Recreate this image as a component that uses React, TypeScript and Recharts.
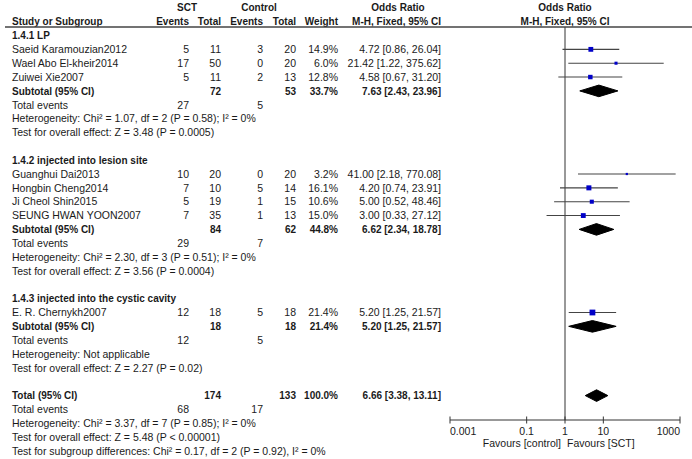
import React from 'react';
import { ComposedChart, Scatter, Line, Area, XAxis, YAxis, ReferenceLine } from 'recharts';

// ---------- data ----------
const studyNames = [
  'Saeid Karamouzian2012',
  'Wael Abo El-kheir2014',
  'Zuiwei Xie2007',
  'Guanghui Dai2013',
  'Hongbin Cheng2014',
  'Ji Cheol Shin2015',
  'SEUNG HWAN YOON2007',
  'E. R. Chernykh2007',
];
const studyGroup = [0, 0, 0, 1, 1, 1, 1, 2];
const sctEvents = [5, 17, 5, 10, 7, 5, 7, 12];
const sctTotal = [11, 50, 11, 20, 10, 19, 35, 18];
const ctlEvents = [3, 0, 2, 0, 5, 1, 1, 5];
const ctlTotal = [20, 20, 13, 20, 14, 15, 13, 18];
const weights = [14.9, 6.0, 12.8, 3.2, 16.1, 10.6, 15.0, 21.4];
const oddsRatio = [4.72, 21.42, 4.58, 41.0, 4.2, 5.0, 3.0, 5.2];
const ciLower = [0.86, 1.22, 0.67, 2.18, 0.74, 0.52, 0.33, 1.25];
const ciUpper = [26.04, 375.62, 31.2, 770.08, 23.91, 48.46, 27.12, 21.57];

const groupLabels = ['1.4.1 LP', '1.4.2 injected into lesion site', '1.4.3 injected into the cystic cavity'];
const groupSctTotal = [72, 84, 18];
const groupCtlTotal = [53, 62, 18];
const groupSctEvents = [27, 29, 12];
const groupCtlEvents = [5, 7, 5];
const groupWeight = [33.7, 44.8, 21.4];
const groupOR = [7.63, 6.62, 5.2];
const groupLower = [2.43, 2.34, 1.25];
const groupUpper = [23.96, 18.78, 21.57];
const groupHet = [
  'Heterogeneity: Chi\u00B2 = 1.07, df = 2 (P = 0.58); I\u00B2 = 0%',
  'Heterogeneity: Chi\u00B2 = 2.30, df = 3 (P = 0.51); I\u00B2 = 0%',
  'Heterogeneity: Not applicable',
];
const groupTest = [
  'Test for overall effect: Z = 3.48 (P = 0.0005)',
  'Test for overall effect: Z = 3.56 (P = 0.0004)',
  'Test for overall effect: Z = 2.27 (P = 0.02)',
];

const totalSct = 174;
const totalCtl = 133;
const totalSctEvents = 68;
const totalCtlEvents = 17;
const totalWeight = 100.0;
const totalOR = 6.66;
const totalLower = 3.38;
const totalUpper = 13.11;
const totalHet = 'Heterogeneity: Chi\u00B2 = 3.37, df = 7 (P = 0.85); I\u00B2 = 0%';
const totalTest = 'Test for overall effect: Z = 5.48 (P < 0.00001)';
const subgroupTest = 'Test for subgroup differences: Chi\u00B2 = 0.17, df = 2 (P = 0.92), I\u00B2 = 0%';

const axisTicks = [0.001, 0.1, 1, 10, 1000];

// ---------- layout ----------
const W = 692;
const H = 459;
const ROW0 = 35.5;
const ROW_H = 13.85;
const PLOT_LEFT = 450;
const PLOT_RIGHT = 680;
const PLOT_TOP = 27;
const AXIS_Y = 420;
const FONT = "'Liberation Sans', Arial, sans-serif";
const FS = 10.5;
const FS_BOLD = 10;
const TXT = '#1a1a1a';

const COL = { name: 12, sctEv: 189, sctTot: 221, ctlEv: 263, ctlTot: 296, weight: 338, or: 441 };

const fmt = (v: number) => v.toFixed(2);
const orLabel = (o: number, l: number, h: number) => `${fmt(o)} [${fmt(l)}, ${fmt(h)}]`;

type TextRowT = {
  x: number;
  row: number;
  kind: string;
  name?: string;
  c1?: string;
  c2?: string;
  c3?: string;
  c4?: string;
  c5?: string;
  c6?: string;
};

const textRows: TextRowT[] = [];
const studyPoints: { x: number; row: number; w: number; lo: number; hi: number }[] = [];
const diamonds: { row: number; or: number; lo: number; hi: number }[] = [];

(function build() {
  textRows.push({ x: 0.5, row: -2, kind: 'head1' });
  textRows.push({ x: 0.5, row: -1, kind: 'head2' });
  let r = 0;
  groupLabels.forEach((label, g) => {
    textRows.push({ x: 0.5, row: r++, kind: 'group', name: label });
    studyNames.forEach((n, i) => {
      if (studyGroup[i] !== g) return;
      studyPoints.push({ x: oddsRatio[i], row: r, w: weights[i], lo: ciLower[i], hi: ciUpper[i] });
      textRows.push({
        x: 0.5,
        row: r++,
        kind: 'study',
        name: n,
        c1: String(sctEvents[i]),
        c2: String(sctTotal[i]),
        c3: String(ctlEvents[i]),
        c4: String(ctlTotal[i]),
        c5: weights[i].toFixed(1) + '%',
        c6: orLabel(oddsRatio[i], ciLower[i], ciUpper[i]),
      });
    });
    diamonds.push({ row: r, or: groupOR[g], lo: groupLower[g], hi: groupUpper[g] });
    textRows.push({
      x: 0.5,
      row: r++,
      kind: 'subtotal',
      name: 'Subtotal (95% CI)',
      c2: String(groupSctTotal[g]),
      c4: String(groupCtlTotal[g]),
      c5: groupWeight[g].toFixed(1) + '%',
      c6: orLabel(groupOR[g], groupLower[g], groupUpper[g]),
    });
    textRows.push({ x: 0.5, row: r++, kind: 'events', name: 'Total events', c1: String(groupSctEvents[g]), c3: String(groupCtlEvents[g]) });
    textRows.push({ x: 0.5, row: r++, kind: 'note', name: groupHet[g] });
    textRows.push({ x: 0.5, row: r++, kind: 'note', name: groupTest[g] });
    r++;
  });
  diamonds.push({ row: r, or: totalOR, lo: totalLower, hi: totalUpper });
  textRows.push({
    x: 0.5,
    row: r++,
    kind: 'subtotal',
    name: 'Total (95% CI)',
    c2: String(totalSct),
    c4: String(totalCtl),
    c5: totalWeight.toFixed(1) + '%',
    c6: orLabel(totalOR, totalLower, totalUpper),
  });
  textRows.push({ x: 0.5, row: r++, kind: 'events', name: 'Total events', c1: String(totalSctEvents), c3: String(totalCtlEvents) });
  textRows.push({ x: 0.5, row: r++, kind: 'note', name: totalHet });
  textRows.push({ x: 0.5, row: r++, kind: 'note', name: totalTest });
  textRows.push({ x: 0.5, row: r++, kind: 'note', name: subgroupTest });
})();

const LAST_ROW = 30;
const TEXT_TOP = ROW0 - 2 * ROW_H;
const TEXT_BOTTOM = H - (ROW0 + LAST_ROW * ROW_H);
const F_ROW_MIN = (PLOT_TOP - ROW0) / ROW_H;
const F_ROW_MAX = (AXIS_Y - ROW0) / ROW_H;
const DIAMOND_HALF = 0.42;

// ---------- renderers ----------
const T = (p: { x: number; y: number; anchor?: 'start' | 'middle' | 'end'; bold?: boolean; children: React.ReactNode }) => (
  <text
    x={p.x}
    y={p.y}
    dy="0.36em"
    textAnchor={p.anchor || 'start'}
    fontFamily={FONT}
    fontSize={p.bold ? FS_BOLD : FS}
    fontWeight={p.bold ? 700 : 400}
    fill={TXT}
  >
    {p.children}
  </text>
);

const TextRowShape = (props: any) => {
  const { cy, payload } = props;
  const d: TextRowT = payload;
  const y = cy;
  if (d.kind === 'head1') {
    return (
      <g>
        <T x={187} y={y} anchor="middle" bold>SCT</T>
        <T x={259} y={y} anchor="middle" bold>Control</T>
        <T x={398} y={y} anchor="middle" bold>Odds Ratio</T>
        <T x={565} y={y} anchor="middle" bold>Odds Ratio</T>
      </g>
    );
  }
  if (d.kind === 'head2') {
    return (
      <g>
        <T x={COL.name} y={y} bold>Study or Subgroup</T>
        <T x={COL.sctEv} y={y} anchor="end" bold>Events</T>
        <T x={COL.sctTot} y={y} anchor="end" bold>Total</T>
        <T x={COL.ctlEv} y={y} anchor="end" bold>Events</T>
        <T x={COL.ctlTot} y={y} anchor="end" bold>Total</T>
        <T x={COL.weight} y={y} anchor="end" bold>Weight</T>
        <T x={COL.or} y={y} anchor="end" bold>M-H, Fixed, 95% CI</T>
        <T x={565} y={y} anchor="middle" bold>M-H, Fixed, 95% CI</T>
        <line x1={5} x2={W} y1={PLOT_TOP} y2={PLOT_TOP} stroke="#444" strokeWidth={1.3} />
      </g>
    );
  }
  const bold = d.kind === 'group' || d.kind === 'subtotal';
  return (
    <g>
      <T x={COL.name} y={y} bold={bold}>{d.name}</T>
      {d.c1 && <T x={COL.sctEv} y={y} anchor="end" bold={bold}>{d.c1}</T>}
      {d.c2 && <T x={COL.sctTot} y={y} anchor="end" bold={bold}>{d.c2}</T>}
      {d.c3 && <T x={COL.ctlEv} y={y} anchor="end" bold={bold}>{d.c3}</T>}
      {d.c4 && <T x={COL.ctlTot} y={y} anchor="end" bold={bold}>{d.c4}</T>}
      {d.c5 && <T x={COL.weight} y={y} anchor="end" bold={bold}>{d.c5}</T>}
      {d.c6 && <T x={COL.or} y={y} anchor="end" bold={bold}>{d.c6}</T>}
    </g>
  );
};

const SquareShape = (props: any) => {
  const { cx, cy, payload } = props;
  const s = 1.25 * Math.sqrt(payload.w);
  return <rect x={cx - s / 2} y={cy - s / 2} width={s} height={s} fill="#0000c8" />;
};

const AxisTick = (props: any) => {
  const { x, y, payload } = props;
  const v = payload.value;
  const anchor = v === axisTicks[0] ? 'start' : v === axisTicks[axisTicks.length - 1] ? 'end' : 'middle';
  return (
    <g>
      <line x1={x} x2={x} y1={y - 3.5} y2={y + 3.5} stroke="#333" strokeWidth={1} />
      <text x={x} y={y + 15} textAnchor={anchor} fontFamily={FONT} fontSize={FS} fill={TXT}>
        {String(v)}
      </text>
      {v === 1 && (
        <g>
          <text x={x - 4} y={y + 27} textAnchor="end" fontFamily={FONT} fontSize={FS} fill={TXT}>
            Favours [control]
          </text>
          <text x={x + 2} y={y + 27} textAnchor="start" fontFamily={FONT} fontSize={FS} fill={TXT}>
            Favours [SCT]
          </text>
        </g>
      )}
    </g>
  );
};

export default function App() {
  return (
    <div style={{ position: 'absolute', left: 0, top: 0, width: W, height: H, background: '#fff' }}>
      <div style={{ position: 'absolute', left: 0, top: 0 }}>
        <ComposedChart width={W} height={H} margin={{ top: PLOT_TOP, right: W - PLOT_RIGHT, bottom: 0, left: PLOT_LEFT }}>
          <XAxis
            type="number"
            dataKey="x"
            scale="log"
            domain={[axisTicks[0], axisTicks[axisTicks.length - 1]]}
            ticks={axisTicks}
            interval={0}
            allowDataOverflow
            height={H - AXIS_Y}
            axisLine={{ stroke: '#333', strokeWidth: 1 }}
            tickLine={false}
            tickSize={0}
            tickMargin={0}
            tick={<AxisTick />}
          />
          <YAxis type="number" hide reversed domain={[F_ROW_MIN, F_ROW_MAX]} allowDataOverflow />
          <ReferenceLine x={1} stroke="#333" strokeWidth={1} />
          {studyPoints.map((p, i) => (
            <Line
              key={'ci' + i}
              data={[
                { x: p.lo, row: p.row },
                { x: p.hi, row: p.row },
              ]}
              dataKey="row"
              type="linear"
              stroke="#444"
              strokeWidth={1.1}
              dot={false}
              activeDot={false}
              isAnimationActive={false}
            />
          ))}
          {diamonds.map((d, i) => (
            <Area
              key={'dm' + i}
              data={[
                { x: d.lo, band: [d.row, d.row] },
                { x: d.or, band: [d.row - DIAMOND_HALF, d.row + DIAMOND_HALF] },
                { x: d.hi, band: [d.row, d.row] },
              ]}
              dataKey="band"
              type="linear"
              stroke="#000"
              strokeWidth={1}
              fill="#000"
              fillOpacity={1}
              dot={false}
              activeDot={false}
              isAnimationActive={false}
            />
          ))}
          <Scatter data={studyPoints} dataKey="row" shape={<SquareShape />} isAnimationActive={false} />
        </ComposedChart>
      </div>
      <div style={{ position: 'absolute', left: 0, top: 0 }}>
        <ComposedChart width={W} height={H} margin={{ top: TEXT_TOP, right: 0, bottom: TEXT_BOTTOM, left: 0 }}>
          <XAxis type="number" dataKey="x" hide domain={[0, 1]} />
          <YAxis type="number" dataKey="row" hide reversed domain={[-2, LAST_ROW]} />
          <Scatter data={textRows} dataKey="row" shape={<TextRowShape />} isAnimationActive={false} />
        </ComposedChart>
      </div>
    </div>
  );
}
